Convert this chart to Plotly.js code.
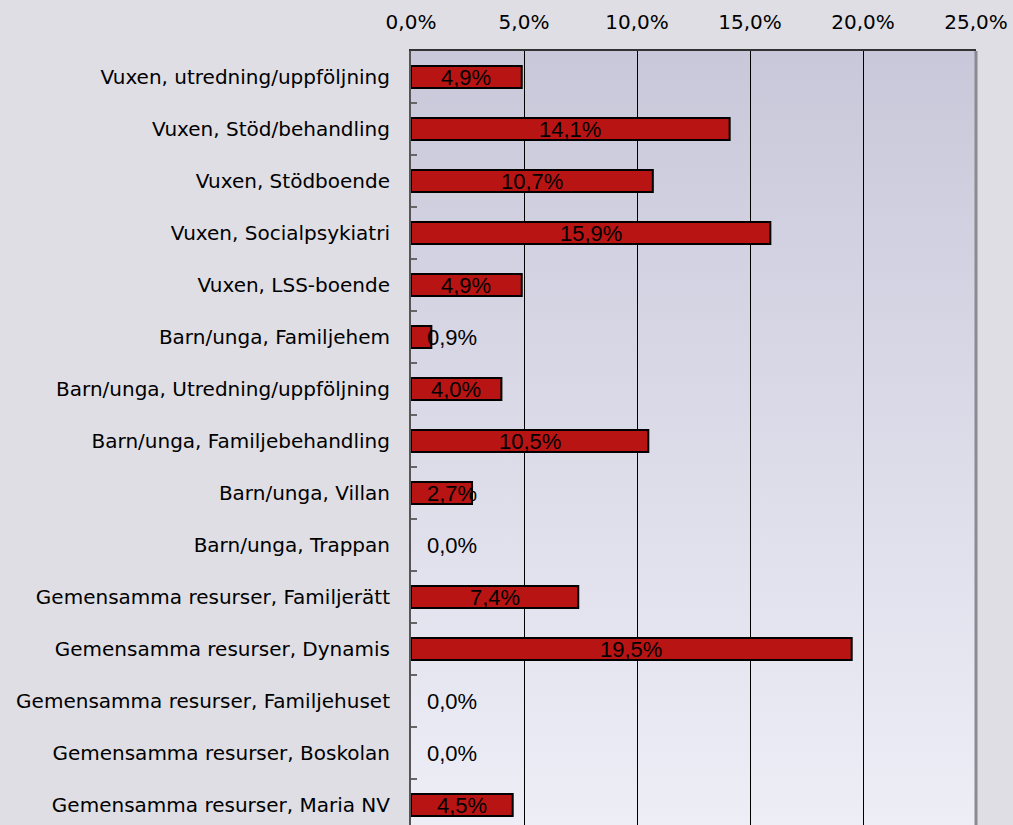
<!DOCTYPE html>
<html><head><meta charset="utf-8">
<script src="https://cdn.plot.ly/plotly-3.0.1.min.js"></script>
<style>html,body{margin:0;padding:0;background:#dfdee4;overflow:hidden}#chart{width:1013px;height:831px}</style>
</head><body><div id="chart"></div>
<script>
const categories = [
  "Vuxen, utredning/uppföljning",
  "Vuxen, Stöd/behandling",
  "Vuxen, Stödboende",
  "Vuxen, Socialpsykiatri",
  "Vuxen, LSS-boende",
  "Barn/unga, Familjehem",
  "Barn/unga, Utredning/uppföljning",
  "Barn/unga, Familjebehandling",
  "Barn/unga, Villan",
  "Barn/unga, Trappan",
  "Gemensamma resurser, Familjerätt",
  "Gemensamma resurser, Dynamis",
  "Gemensamma resurser, Familjehuset",
  "Gemensamma resurser, Boskolan",
  "Gemensamma resurser, Maria NV"
];
const values = [4.9, 14.1, 10.7, 15.9, 4.9, 0.9, 4.0, 10.5, 2.7, 0.0, 7.4, 19.5, 0.0, 0.0, 4.5];
const tickVals = [0, 5, 10, 15, 20, 25];
const tickLabels = ["0,0%", "5,0%", "10,0%", "15,0%", "20,0%", "25,0%"];

const fmt = v => v.toFixed(1).replace('.', ',') + '%';
const font = {family: 'DejaVu Sans, Verdana, sans-serif', size: 20, color: '#000'};
const labelFont = {family: 'Liberation Sans, Arial, sans-serif', size: 22, color: '#000'};

const trace = {
  type: 'bar', orientation: 'h',
  x: values, y: categories,
  width: 0.42,
  marker: {color: '#b81414', line: {color: '#000', width: values.map(v => v > 0 ? 2 : 0)}},
  hoverinfo: 'skip'
};

const annotations = values.map((v, i) => ({
  x: Math.max(v / 2, 1.8), y: categories[i], xref: 'x', yref: 'y',
  text: fmt(v), showarrow: false, font: labelFont, xanchor: 'center', yanchor: 'middle'
}));

const grad = 'data:image/svg+xml;utf8,' + encodeURIComponent(
  '<svg xmlns="http://www.w3.org/2000/svg" width="10" height="100" preserveAspectRatio="none">' +
  '<defs><linearGradient id="g" x1="0" y1="0" x2="0" y2="1">' +
  '<stop offset="0" stop-color="#c9c8da"/><stop offset="1" stop-color="#eeeef7"/></linearGradient></defs>' +
  '<rect width="10" height="100" fill="url(#g)"/></svg>');

const layout = {
  width: 1013, height: 831,
  margin: {l: 411, r: 37, t: 51, b: 0, pad: 0},
  paper_bgcolor: '#dfdee4', plot_bgcolor: 'rgba(0,0,0,0)',
  showlegend: false,
  font: font,
  xaxis: {
    side: 'top', range: [0, 25], tickmode: 'array', tickvals: tickVals, ticktext: tickLabels,
    showgrid: true, gridcolor: '#000', gridwidth: 1,
    showline: true, linecolor: '#333', linewidth: 2,
    ticks: '', zeroline: false, tickfont: font, ticklabelstandoff: 12, fixedrange: true
  },
  yaxis: {
    type: 'category', autorange: 'reversed',
    showline: true, linecolor: '#555', linewidth: 2,
    ticks: 'inside', ticklen: 6, tickcolor: '#666', tickwidth: 2,
    tickson: 'boundaries', showgrid: false, zeroline: false,
    ticklabelstandoff: 15, tickfont: font, fixedrange: true
  },
  shapes: [{type: 'line', xref: 'paper', yref: 'paper', x0: 1, x1: 1, y0: 0, y1: 1,
    line: {color: '#8a8a90', width: 3}}],
  images: [{source: grad, xref: 'paper', yref: 'paper', x: 0, y: 1, sizex: 1, sizey: 1,
    sizing: 'stretch', xanchor: 'left', yanchor: 'top', layer: 'below'}],
  annotations: annotations
};

Plotly.newPlot('chart', [trace], layout, {displayModeBar: false, staticPlot: true});
</script></body></html>
